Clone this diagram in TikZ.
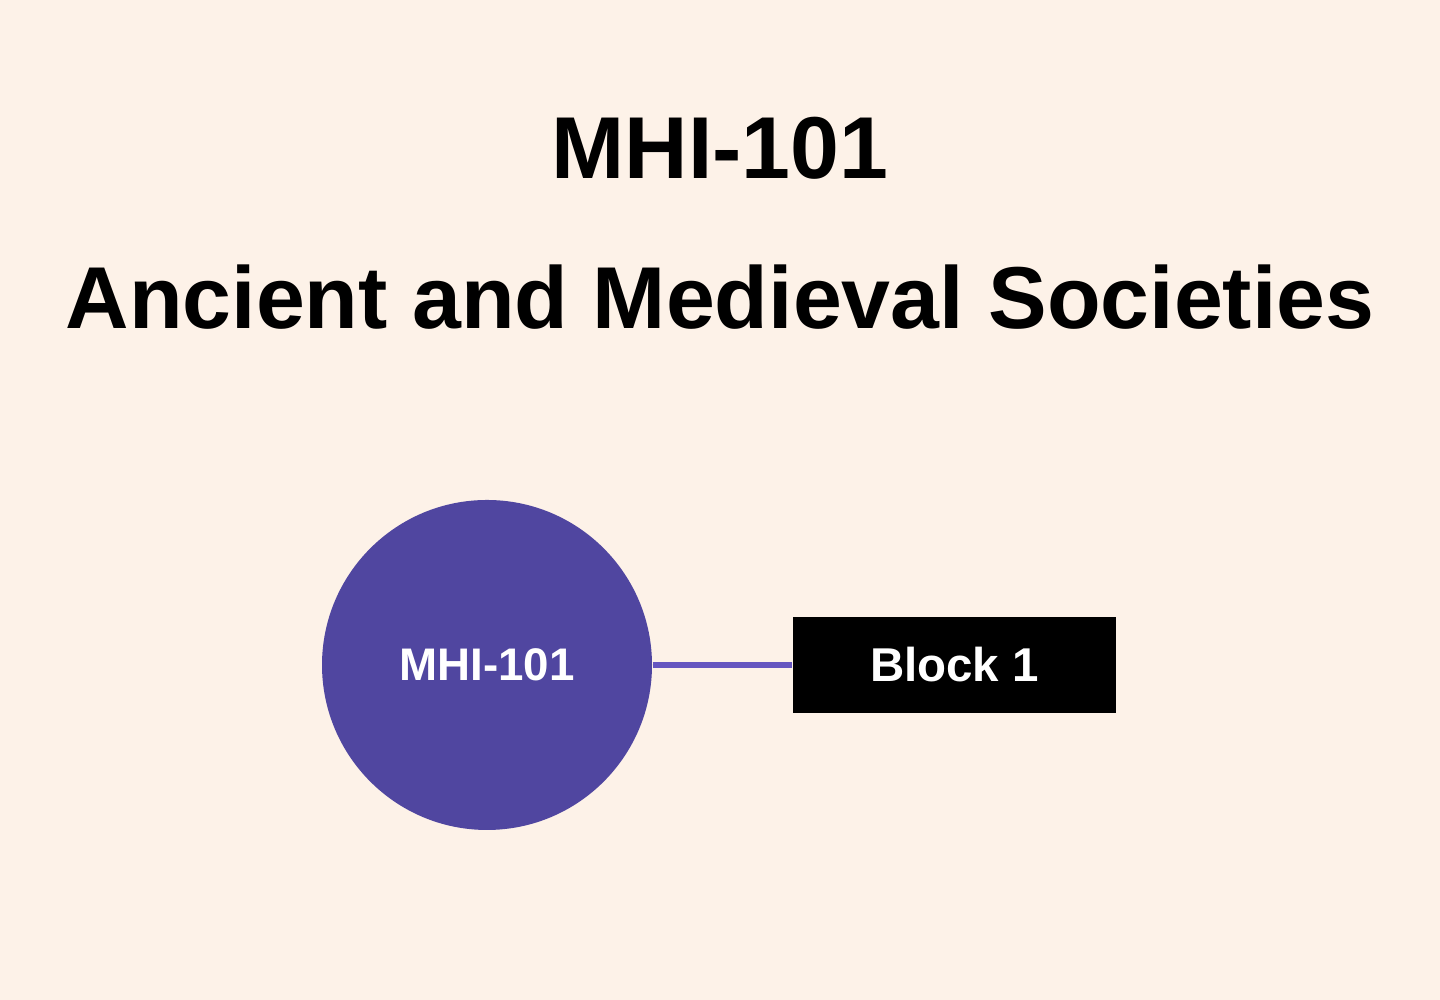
\documentclass[tikz,border=0pt]{standalone}
\usepackage{fontspec}
\setmainfont{Liberation Sans}
\usetikzlibrary{positioning}
\definecolor{bgcream}{HTML}{FDF2E8}
\definecolor{hubpurple}{HTML}{5046A0}
\definecolor{linkpurple}{HTML}{6656C0}

\begin{document}
\begin{tikzpicture}[
    hub/.style={circle,fill=hubpurple,minimum size=3.3cm,inner sep=0pt,text=white,font=\bfseries\fontsize{13}{15}\selectfont},
    blockbox/.style={fill=black,minimum width=3.23cm,minimum height=0.96cm,inner sep=0pt,text=white,font=\bfseries\fontsize{13.5}{16}\selectfont},
    heading/.style={font=\bfseries\fontsize{25}{30}\selectfont}]
    \fill[bgcream] (0,0) rectangle (14.4,10);
    \useasboundingbox (0,0) rectangle (14.4,10);

    \node[heading] (code) at (7.2,8.52) {MHI-101};
    \node[heading] (title) at (7.2,7.03) {Ancient and Medieval Societies};

    \node[hub] (course) at (4.87,3.35) {MHI-101};
    \node[blockbox] (block1) at (9.545,3.35) {Block 1};

    \draw[linkpurple,line width=1.5pt] (course.east) -- (block1.west);
\end{tikzpicture}
\end{document}
